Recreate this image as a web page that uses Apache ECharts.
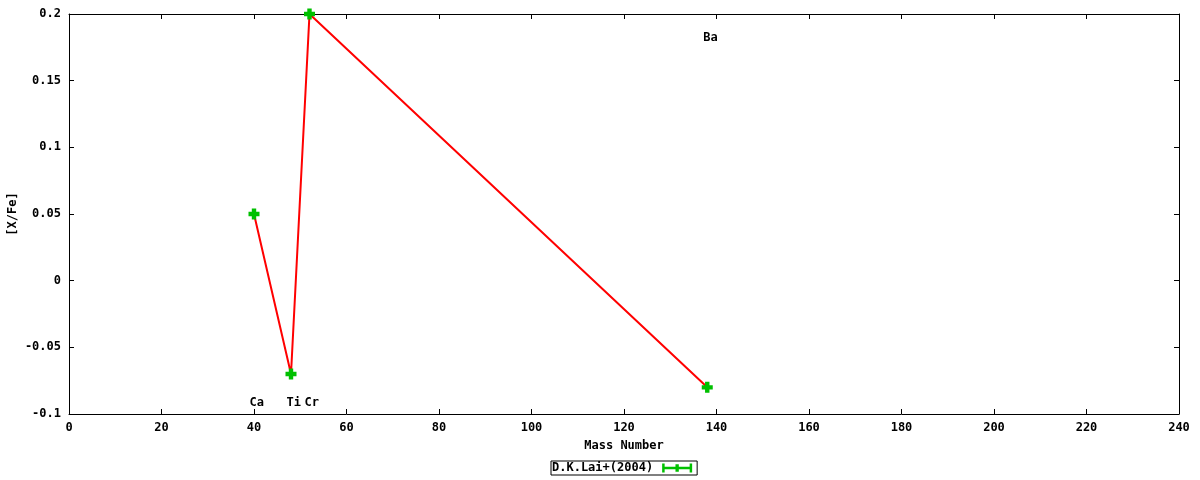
<!DOCTYPE html>
<html>
<head>
<meta charset="utf-8">
<script src="https://cdn.jsdelivr.net/npm/echarts@6/dist/echarts.min.js"></script>
<style>
  html, body { margin: 0; padding: 0; background: #fff; }
  #chart { width: 1200px; height: 480px; }
</style>
</head>
<body>
<div id="chart"></div>
<script>
const FONT = "DejaVu Sans Mono";

// abundance ratios against mass number
const massNumbers = [40, 48, 52, 138];
const abundances = [0.05, -0.07, 0.2, -0.08];

// element tags and where they sit on the plot
const elementNames = ["Ca", "Ti", "Cr", "Ba"];
const elementLabelX = [40.7, 48.7, 52.6, 138.8];
const elementLabelY = [-0.092, -0.092, -0.092, 0.182];

const seriesName = "D.K.Lai+(2004)";

const xTicks = { min: 0, max: 240, interval: 20 };
const yTicks = { min: -0.1, max: 0.2, interval: 0.05 };

const points = massNumbers.map((m, i) => [m, abundances[i]]);
const tags = elementNames.map((n, i) => [elementLabelX[i], elementLabelY[i], n]);

const textStyle = { fontFamily: FONT, fontSize: 12, fontWeight: "bold", color: "#000" };
const frameLine = { show: true, onZero: false, lineStyle: { color: "#000", width: 1 } };
const innerTick = { show: true, inside: true, length: 5, lineStyle: { color: "#000", width: 1 } };

function axisPair(kind, ticks, extra) {
  const main = Object.assign({
    type: "value",
    min: ticks.min,
    max: ticks.max,
    interval: ticks.interval,
    axisLine: frameLine,
    axisTick: innerTick,
    splitLine: { show: false },
    nameMoveOverlap: false,
    axisLabel: Object.assign({}, textStyle, {
      margin: 8,
      formatter: v => String(Math.round(v * 100) / 100)
    })
  }, extra);
  const mirror = {
    type: "value",
    min: ticks.min,
    max: ticks.max,
    interval: ticks.interval,
    position: kind === "x" ? "top" : "right",
    axisLine: frameLine,
    axisTick: innerTick,
    splitLine: { show: false },
    axisLabel: { show: false }
  };
  return [main, mirror];
}

const chart = echarts.init(document.getElementById("chart"), null, { renderer: "canvas" });

chart.setOption({
  animation: false,
  backgroundColor: "#fff",
  grid: { left: 69, right: 21, top: 14, bottom: 66, containLabel: false, outerBoundsMode: "none" },
  xAxis: axisPair("x", xTicks, {
    position: "bottom",
    name: "Mass Number",
    nameLocation: "middle",
    nameGap: 26,
    nameTextStyle: textStyle
  }),
  yAxis: axisPair("y", yTicks, {
    position: "left",
    name: "[X/Fe]",
    nameLocation: "middle",
    nameGap: 50,
    nameRotate: 90,
    nameTextStyle: textStyle
  }),
  legend: {
    data: [{
      name: seriesName,
      icon: "path://M0,4h36v3h-36z M0,0h3v11h-3z M33,0h3v11h-3z M16,1h4v9h-4z"
    }],
    left: 551,
    top: 461,
    align: "right",
    itemWidth: 30,
    itemHeight: 10,
    itemGap: 0,
    padding: [1, 5, 1, 1],
    borderColor: "#000",
    borderWidth: 1,
    borderRadius: 0,
    backgroundColor: "#fff",
    textStyle: Object.assign({}, textStyle, { padding: [0, 4, 0, 0] })
  },
  series: [
    {
      type: "line",
      data: points,
      showSymbol: false,
      symbol: "none",
      lineStyle: { color: "#ff0000", width: 2 },
      silent: true,
      z: 2
    },
    {
      name: seriesName,
      type: "scatter",
      data: points,
      symbol: "path://M3,0h4v3h3v4h-3v3h-4v-3h-3v-4h3z",
      symbolSize: 11,
      itemStyle: { color: "#00c000", opacity: 1 },
      z: 3
    },
    {
      type: "scatter",
      data: tags,
      symbolSize: 1,
      itemStyle: { color: "transparent", opacity: 1 },
      silent: true,
      label: Object.assign({}, textStyle, {
        show: true,
        position: [0, 0],
        align: "center",
        verticalAlign: "middle",
        textBorderWidth: 0,
        formatter: p => p.value[2]
      }),
      z: 4
    }
  ]
});
</script>
</body>
</html>
